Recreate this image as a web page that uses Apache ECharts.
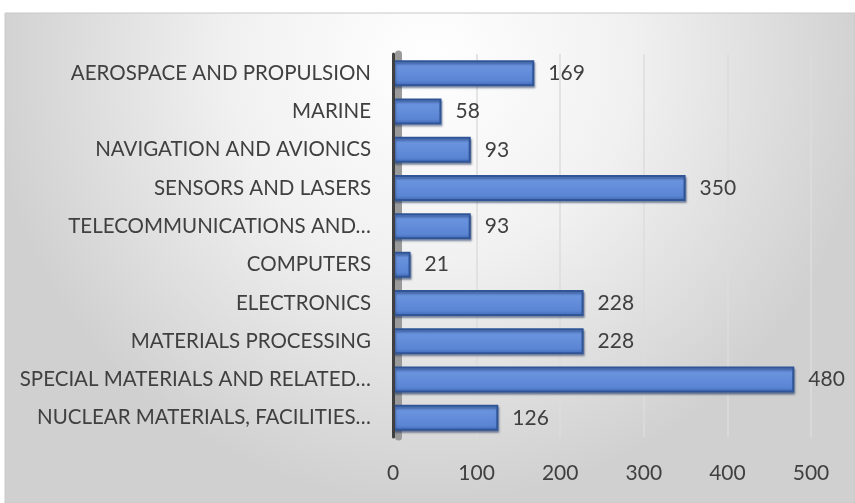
<!DOCTYPE html>
<html>
<head>
<meta charset="utf-8">
<script src="https://cdn.jsdelivr.net/npm/echarts@6/dist/echarts.min.js"></script>
<style>
  html, body { margin: 0; padding: 0; background: #ffffff; }
  #chart { width: 855px; height: 503px; }
</style>
</head>
<body>
<div id="chart"></div>
<script>
// Sectors, top to bottom
const categories = [
  'AEROSPACE AND PROPULSION',
  'MARINE',
  'NAVIGATION AND AVIONICS',
  'SENSORS AND LASERS',
  'TELECOMMUNICATIONS AND…',
  'COMPUTERS',
  'ELECTRONICS',
  'MATERIALS PROCESSING',
  'SPECIAL MATERIALS AND RELATED…',
  'NUCLEAR MATERIALS, FACILITIES…'
];
const counts = [169, 58, 93, 350, 93, 21, 228, 228, 480, 126];
const xTicks = [0, 100, 200, 300, 400, 500];

const textColor = '#404040';
const font = 'Lato, "Open Sans", sans-serif';

const chart = echarts.init(document.getElementById('chart'), null, { renderer: 'canvas' });

chart.setOption({
  animation: false,
  backgroundColor: '#ffffff',
  graphic: [{
    type: 'rect',
    z: -100,
    silent: true,
    shape: { x: 5, y: 13, width: 850, height: 490 },
    style: {
      fill: new echarts.graphic.RadialGradient(0.5, 0.1, 0.9, [
        { offset: 0, color: '#ffffff' },
        { offset: 0.45, color: '#f1f1f1' },
        { offset: 1, color: '#d0d0d0' }
      ]),
      stroke: '#c8c8c8',
      lineWidth: 1
    }
  }],
  grid: { left: 393, right: 44, top: 54, bottom: 66, containLabel: false },
  xAxis: {
    type: 'value',
    min: xTicks[0],
    max: xTicks[xTicks.length - 1],
    interval: 100,
    axisLine: { show: false },
    axisTick: { show: false },
    axisLabel: { color: textColor, fontFamily: font, fontSize: 21, margin: 26 },
    splitLine: { show: true, lineStyle: { color: '#dcdcdc', width: 1.5 } }
  },
  yAxis: [{
    type: 'category',
    inverse: true,
    data: categories,
    z: 5,
    axisLine: { show: true, lineStyle: { color: '#404040', width: 3 } },
    axisTick: { show: false },
    axisLabel: { color: textColor, fontFamily: font, fontSize: 20.5, margin: 22 }
  }, {
    // grey side wall next to the category axis
    type: 'category',
    inverse: true,
    data: categories,
    position: 'left',
    offset: -5,
    z: 1,
    axisLine: { show: true, lineStyle: { color: '#9a9a9a', width: 7 } },
    axisTick: { show: false },
    axisLabel: { show: false }
  }],
  series: [{
    type: 'bar',
    data: counts,
    barWidth: 26,
    z: 3,
    itemStyle: {
      color: new echarts.graphic.LinearGradient(0, 0, 0, 1, [
        { offset: 0, color: '#5b86d6' },
        { offset: 0.25, color: '#6a93de' },
        { offset: 0.8, color: '#5a85d3' },
        { offset: 1, color: '#3e66b3' }
      ]),
      borderColor: '#2f5597',
      borderWidth: 2,
      shadowColor: 'rgba(30,50,90,0.45)',
      shadowOffsetX: 1,
      shadowOffsetY: 2,
      shadowBlur: 2
    },
    label: {
      show: true,
      position: 'right',
      distance: 14,
      color: textColor,
      fontFamily: font,
      fontSize: 21
    }
  }]
});
</script>
</body>
</html>
